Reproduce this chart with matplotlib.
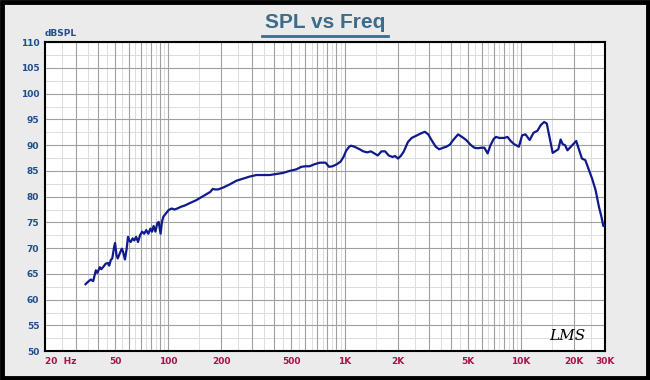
import numpy as np
import matplotlib
matplotlib.use("Agg")
import matplotlib.pyplot as plt
from matplotlib.patches import Rectangle

freq = [34, 35.5, 36.4, 37.6, 38.9, 39.7, 41.0, 41.8, 43.2, 44.3, 45.6, 46.3,
        47.3, 48.2, 49.4, 50.0, 51.0, 51.8, 53.2, 54.6, 55.5, 56.9, 58.2, 59.2,
        60.2, 61.3, 62.9, 64.3, 65.8, 67.5, 69.3, 71.2, 73.1, 75.1, 77.2, 79.3,
        81.0, 82.7, 84.7, 86.7, 88.3, 90.6, 92.2, 93.9, 97.0, 100.6, 104.7,
        108.6, 112.6, 117.6, 124.6, 131.8, 144, 164.9, 173, 179, 185, 192, 206,
        224, 244, 266, 290, 316, 345, 377, 410, 447, 488, 532, 570, 601, 633,
        676, 724, 762, 780, 816, 855, 904, 949, 986, 1020, 1062, 1088, 1137,
        1218, 1276, 1342, 1410, 1474, 1542, 1620, 1698, 1778, 1870, 1932, 2009,
        2082, 2161, 2286, 2400, 2568, 2716, 2850, 2980, 3110, 3285, 3440, 3620,
        3780, 3950, 4130, 4400, 4630, 4890, 5170, 5440, 5690, 5940, 6200, 6470,
        6700, 7000, 7220, 7530, 8030, 8380, 8750, 9130, 9730, 10150, 10600,
        11200, 11780, 12400, 12950, 13530, 14000, 14500, 15130, 15800, 16280,
        16780, 17230, 17780, 18340, 19160, 20030, 20570, 21200, 22150, 23150,
        24200, 25300, 26470, 27680, 28530, 29300, 30000]
spl = [63.0, 63.6, 63.9, 63.6, 65.7, 65.2, 66.3, 65.9, 66.5, 67.0, 67.1, 66.6,
       67.7, 68.0, 70.2, 71.0, 68.6, 68.0, 69.0, 69.9, 69.3, 67.8, 69.9, 72.2,
       71.5, 71.2, 71.9, 71.5, 72.2, 71.2, 72.5, 73.2, 72.8, 73.5, 72.8, 73.8,
       73.2, 74.3, 73.2, 74.8, 75.1, 72.8, 75.1, 76.1, 76.7, 77.4, 77.7,
       77.5, 77.7, 78.0, 78.3, 78.7, 79.3, 80.5, 80.9, 81.5, 81.4, 81.4, 81.8,
       82.4, 83.1, 83.5, 83.9, 84.2, 84.2, 84.2, 84.4, 84.6, 85.0, 85.3, 85.8,
       85.9, 85.9, 86.3, 86.6, 86.6, 86.6, 85.8, 85.9, 86.3, 86.8, 87.7, 88.9,
       89.7, 89.9, 89.7, 89.2, 88.8, 88.6, 88.8, 88.4, 88.0, 88.8, 88.8, 88.0,
       87.7, 87.9, 87.4, 87.9, 88.7, 90.6, 91.4, 91.9, 92.3, 92.6, 92.1, 91.0,
       89.7, 89.2, 89.5, 89.7, 90.1, 91.0, 92.1, 91.6, 91.0, 90.1, 89.5, 89.4,
       89.5, 89.5, 88.4, 89.9, 91.2, 91.6, 91.4, 91.4, 91.6, 90.8, 90.2, 89.7,
       91.9, 92.1, 91.0, 92.4, 92.8, 93.9, 94.5, 94.2, 91.6, 88.5, 88.9, 89.2,
       91.1, 90.2, 90.0, 89.0, 89.7, 90.4, 90.8, 89.4, 87.4, 87.1, 85.3, 83.5,
       81.3, 78.0, 76.2, 74.3, 74.6]

yticks = list(range(50, 111, 5))
xtick_vals = [20, 50, 100, 200, 500, 1000, 2000, 5000, 10000, 20000, 30000]
xtick_labels = ["20  Hz", "50", "100", "200", "500", "1K", "2K", "5K", "10K", "20K", "30K"]

fig = plt.figure(figsize=(6.5, 3.8), dpi=100, facecolor="#ebebeb")
fig.patches.append(Rectangle((0.003, 0.005), 0.994, 0.99, transform=fig.transFigure,
                             fill=False, edgecolor="black", linewidth=3.5))

ax = fig.add_axes([0.069, 0.076, 0.862, 0.813])
ax.set_facecolor("white")
ax.set_xscale("log")
ax.set_xlim(20, 30000)
ax.set_ylim(50, 110)

# grid: darker at 1..9 per decade and every 5 dB, lighter at half steps
for dec in [10, 100, 1000, 10000]:
    for m in range(1, 10):
        f = dec * m
        if 20 < f < 30000:
            ax.axvline(f, color="#a0a0a0", lw=0.8, zorder=1)
        fh = dec * (m + 0.5)
        if 20 < fh < 30000:
            ax.axvline(fh, color="#dcdcdc", lw=0.7, zorder=0)
for v in yticks:
    ax.axhline(v, color="#a0a0a0", lw=0.8, zorder=1)
    if v + 2.5 < 110:
        ax.axhline(v + 2.5, color="#dcdcdc", lw=0.7, zorder=0)

ax.plot(freq, spl, color="#0f1a8c", lw=1.6, zorder=3)

ax.set_yticks(yticks)
ax.set_yticklabels([str(v) for v in yticks], color="#1f4e8c", fontsize=6.5,
                   fontweight="bold")
ax.set_xticks(xtick_vals)
ax.set_xticklabels(xtick_labels, color="#a8104a", fontsize=6.5, fontweight="bold")
ax.xaxis.set_minor_locator(matplotlib.ticker.NullLocator())
ax.tick_params(length=0, pad=4)
labels = ax.get_xticklabels()
labels[0].set_horizontalalignment("left")
labels[0].set_x(20)
for s in ax.spines.values():
    s.set_linewidth(1.5)
    s.set_color("black")

ax.text(0.0, 1.012, "dBSPL", transform=ax.transAxes, color="#1f4e8c",
        fontsize=6.5, fontweight="bold", ha="left", va="bottom")
ax.text(0.965, 0.025, "LMS", transform=ax.transAxes, color="black",
        fontsize=11, fontstyle="italic", family="DejaVu Serif",
        ha="right", va="bottom")

fig.text(0.5, 0.94, "SPL vs Freq", color="#3d6b8a", fontsize=15,
         fontweight="bold", ha="center", va="center", family="Liberation Sans")
fig.add_artist(plt.Line2D([0.403, 0.597], [0.905, 0.905], color="#3d6b8a", lw=2))

fig.savefig("out.png", dpi=100, facecolor=fig.get_facecolor())
